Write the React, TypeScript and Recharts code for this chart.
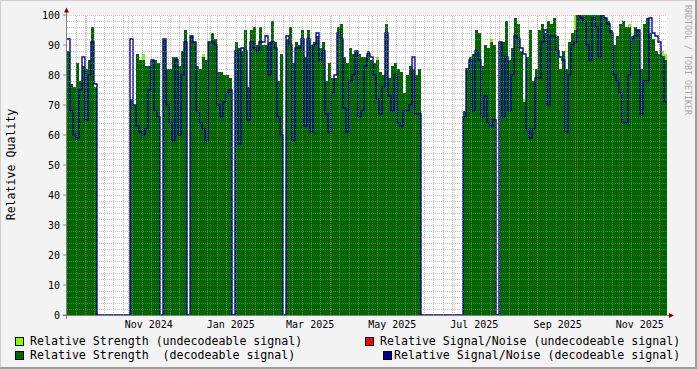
import React from 'react';
import { ComposedChart, Area, Line, XAxis, YAxis, ReferenceLine } from 'recharts';

const DAY = 86400000;
const START = Date.UTC(2024, 8, 16, 6);
const SPAN_DAYS = 446;
const END = START + SPAN_DAYS * DAY;

// Relative Strength (decodeable signal), one value per sample
const strengthDecodeable = [
  88, 77, 76, 84, 78, 83, 82, 85, 96, 76,
  0, 0, 0, 0, 0, 0, 0, 0, 0, 0,
  0, 72, 70, 87, 85, 85, 83, 83, 85, 85,
  84, 0, 92, 82, 82, 86, 86, 83, 88, 95,
  0, 93, 91, 83, 82, 86, 85, 91, 94, 92,
  81, 81, 80, 80, 79, 0, 91, 89, 88, 95,
  76, 95, 96, 90, 96, 90, 90, 91, 98, 91,
  78, 87, 0, 92, 96, 84, 91, 90, 95, 86,
  95, 90, 91, 93, 89, 91, 78, 84, 79, 79,
  96, 97, 86, 84, 89, 87, 88, 87, 86, 86,
  88, 85, 84, 85, 81, 80, 97, 79, 83, 84,
  82, 81, 74, 80, 83, 82, 80, 82, 0, 0,
  0, 0, 0, 0, 0, 0, 0, 0, 0, 0,
  0, 0, 68, 82, 86, 87, 95, 94, 83, 90,
  89, 91, 90, 0, 91, 91, 98, 85, 89, 99,
  97, 88, 71, 86, 95, 78, 82, 95, 97, 94,
  98, 97, 99, 93, 82, 88, 82, 91, 94, 95,
  100, 100, 100, 100, 100, 100, 100, 100, 100, 99,
  98, 95, 90, 93, 97, 98, 96, 96, 93, 96,
  95, 82, 97, 99, 94, 92, 88, 87, 86, 85,
];

// Relative Signal/Noise (decodeable signal)
const snDecodeable = [
  92, 68, 60, 59, 75, 86, 65, 80, 91, 77,
  0, 0, 0, 0, 0, 0, 0, 0, 0, 0,
  0, 92, 70, 63, 61, 60, 62, 75, 85, 68,
  66, 0, 92, 70, 64, 58, 85, 60, 80, 91,
  0, 93, 91, 68, 64, 62, 58, 91, 91, 90,
  70, 66, 71, 74, 75, 0, 88, 57, 89, 88,
  65, 91, 89, 88, 91, 91, 93, 80, 91, 89,
  66, 60, 0, 93, 90, 58, 89, 89, 92, 63,
  92, 61, 90, 94, 85, 88, 67, 61, 74, 80,
  94, 92, 69, 61, 78, 80, 88, 66, 68, 83,
  87, 86, 80, 72, 67, 76, 94, 73, 68, 80,
  64, 63, 68, 68, 70, 86, 67, 67, 0, 0,
  0, 0, 0, 0, 0, 0, 0, 0, 0, 0,
  0, 0, 66, 82, 85, 68, 88, 85, 66, 73,
  64, 63, 65, 0, 91, 66, 86, 68, 80, 93,
  92, 89, 87, 62, 59, 62, 79, 79, 91, 95,
  70, 93, 93, 88, 86, 85, 61, 80, 90, 91,
  100, 99, 98, 90, 85, 99, 96, 86, 100, 99,
  97, 94, 80, 78, 74, 64, 64, 80, 92, 93,
  95, 67, 78, 78, 99, 94, 93, 91, 86, 71,
];

// Relative Strength (undecodeable signal)
const strengthUndecodeable = [
  0, 0, 0, 0, 0, 0, 0, 0, 0, 0,
  0, 0, 0, 0, 0, 0, 0, 0, 0, 0,
  0, 0, 0, 0, 0, 87, 0, 0, 0, 0,
  0, 0, 0, 0, 0, 0, 0, 0, 0, 0,
  0, 0, 0, 0, 0, 87, 0, 0, 0, 0,
  0, 0, 0, 0, 0, 0, 0, 0, 0, 0,
  0, 0, 0, 0, 0, 0, 0, 0, 0, 0,
  0, 0, 0, 0, 0, 0, 0, 0, 0, 0,
  0, 0, 0, 0, 0, 0, 0, 0, 0, 0,
  0, 0, 0, 0, 0, 0, 0, 0, 0, 0,
  0, 0, 0, 86, 0, 0, 0, 0, 0, 0,
  0, 0, 0, 0, 0, 0, 0, 0, 0, 0,
  0, 0, 0, 0, 0, 0, 0, 0, 0, 0,
  0, 0, 0, 0, 0, 0, 0, 0, 0, 0,
  0, 92, 0, 0, 0, 0, 0, 0, 0, 0,
  0, 0, 72, 0, 0, 0, 0, 0, 0, 0,
  0, 0, 0, 0, 0, 0, 0, 0, 0, 100,
  0, 0, 0, 0, 0, 0, 0, 0, 0, 0,
  0, 0, 0, 0, 0, 0, 0, 97, 0, 0,
  0, 0, 0, 0, 0, 0, 0, 0, 88, 87,
];

const xLabels = ['Nov 2024', 'Jan 2025', 'Mar 2025', 'May 2025', 'Jul 2025', 'Sep 2025', 'Nov 2025'];
const xLabelMonths = [[2024, 10], [2025, 0], [2025, 2], [2025, 4], [2025, 6], [2025, 8], [2025, 10]];
const monthStarts = [
  [2024, 9], [2024, 10], [2024, 11], [2025, 0], [2025, 1], [2025, 2], [2025, 3], [2025, 4],
  [2025, 5], [2025, 6], [2025, 7], [2025, 8], [2025, 9], [2025, 10], [2025, 11],
];
const yTicks = [0, 10, 20, 30, 40, 50, 60, 70, 80, 90, 100];

const STEP = (END - START) / strengthDecodeable.length;
const data = strengthDecodeable.map((g, i) => ({
  t: START + i * STEP,
  g,
  b: snDecodeable[i],
  u: strengthUndecodeable[i],
}));
data.push({ ...data[data.length - 1], t: END });

const xLabelTimes = xLabelMonths.map(([y, m]) => Date.UTC(y, m, 1) + 15 * DAY);
const majorX = monthStarts.map(([y, m]) => Date.UTC(y, m, 1));
const minorX: number[] = [];
for (let t = Date.UTC(2024, 8, 23); t < END; t += 7 * DAY) minorX.push(t);
const minorY: number[] = [];
for (let v = 2; v < 100; v += 2) if (v % 10 !== 0) minorY.push(v);
const majorY = yTicks.filter((v) => v > 0);

const FONT = 'DejaVu Sans Mono';
const MINOR = 'rgba(143,143,143,0.55)';
const MAJOR = 'rgba(224,80,80,0.38)';

export default function App() {
  return (
    <div style={{ position: 'absolute', left: 0, top: 0, width: 697, height: 369, background: '#f3f3f3', overflow: 'hidden' }}>
      <div style={{ position: 'absolute', left: 67, top: 15, width: 600, height: 300, background: '#ffffff' }} />
      <div style={{ position: 'absolute', left: 0, top: 0 }}>
        <ComposedChart width={697} height={369} data={data} margin={{ top: 15, right: 30, bottom: 24, left: 7 }}>
          <XAxis
            type="number"
            dataKey="t"
            domain={[START, END]}
            ticks={xLabelTimes}
            interval={0}
            tickFormatter={(v: number) => xLabels[xLabelTimes.indexOf(v)] ?? ''}
            axisLine={false}
            tickLine={false}
            tickSize={0}
            tickMargin={6}
            height={30}
            allowDataOverflow
            tick={{ fontSize: 10, fontFamily: FONT, fill: '#000' }}
          />
          <YAxis
            type="number"
            domain={[0, 100]}
            ticks={yTicks}
            interval={0}
            width={60}
            axisLine={false}
            tickLine={{ stroke: '#808080' }}
            tickSize={4}
            tickMargin={3}
            allowDataOverflow
            tick={{ fontSize: 10, fontFamily: FONT, fill: '#000' }}
          />
          <Area type="stepAfter" dataKey="u" fill="#80ff00" fillOpacity={1} stroke="none" isAnimationActive={false} />
          <Area type="stepAfter" dataKey="g" fill="#006600" fillOpacity={1} stroke="none" isAnimationActive={false} />
          <Line type="stepAfter" dataKey="b" stroke="#000099" strokeWidth={1.4} dot={false} isAnimationActive={false} />
          {minorY.map((v) => (
            <ReferenceLine key={'my' + v} y={v} stroke={MINOR} strokeDasharray="1 1" shapeRendering="crispEdges" />
          ))}
          {minorX.map((t) => (
            <ReferenceLine key={'mx' + t} x={t} stroke={MINOR} strokeDasharray="1 1" shapeRendering="crispEdges" />
          ))}
          {majorY.map((v) => (
            <ReferenceLine key={'My' + v} y={v} stroke={MAJOR} strokeDasharray="1 1" shapeRendering="crispEdges" />
          ))}
          {majorX.map((t) => (
            <ReferenceLine key={'Mx' + t} x={t} stroke={MAJOR} strokeDasharray="1 1" shapeRendering="crispEdges" />
          ))}
        </ComposedChart>
      </div>
      <svg width={697} height={369} style={{ position: 'absolute', left: 0, top: 0, pointerEvents: 'none' }}>
        <rect x={0} y={0} width={697} height={1} fill="#cfcfcf" />
        <rect x={0} y={0} width={1} height={369} fill="#cfcfcf" />
        <rect x={695} y={0} width={2} height={369} fill="#9e9e9e" />
        <rect x={0} y={367} width={697} height={2} fill="#9e9e9e" />
        <line x1={63} y1={315.5} x2={670} y2={315.5} stroke="#808080" strokeWidth={1} />
        <line x1={66.5} y1={12} x2={66.5} y2={319} stroke="#808080" strokeWidth={1} />
        <polygon points="64,12.5 69,12.5 66.5,7.5" fill="#800000" />
        <polygon points="669,313 669,318 674,315.5" fill="#800000" />
        <text
          x={15}
          y={164.5}
          transform="rotate(-90 15 164.5)"
          textAnchor="middle"
          fontFamily={FONT}
          fontSize={11.6}
          fill="#000"
        >
          Relative Quality
        </text>
        <text
          x={685}
          y={5}
          transform="rotate(90 685 5)"
          textAnchor="start"
          fontFamily={FONT}
          fontSize={8.3}
          fill="#a8a8a8"
        >
          RRDTOOL / TOBI OETIKER
        </text>
        <rect x={15.5} y={337.5} width={8} height={8} fill="#80ff00" stroke="#000" strokeWidth={1} />
        <text x={30} y={345} fontFamily={FONT} fontSize={11.6} fill="#000" style={{ whiteSpace: 'pre' }}>
          Relative Strength (undecodeable signal)
        </text>
        <rect x={15.5} y={351.5} width={8} height={8} fill="#006600" stroke="#000" strokeWidth={1} />
        <text x={30} y={359} fontFamily={FONT} fontSize={11.6} fill="#000" style={{ whiteSpace: 'pre' }}>
          {'Relative Strength  (decodeable signal)'}
        </text>
        <rect x={365.5} y={337.5} width={8} height={8} fill="#ff0000" stroke="#000" strokeWidth={1} />
        <text x={380} y={345} fontFamily={FONT} fontSize={11.6} fill="#000" style={{ whiteSpace: 'pre' }}>
          Relative Signal/Noise (undecodeable signal)
        </text>
        <rect x={383.5} y={351.5} width={8} height={8} fill="#000099" stroke="#000" strokeWidth={1} />
        <text x={394} y={359} fontFamily={FONT} fontSize={11.6} fill="#000" style={{ whiteSpace: 'pre' }}>
          Relative Signal/Noise (decodeable signal)
        </text>
      </svg>
    </div>
  );
}
